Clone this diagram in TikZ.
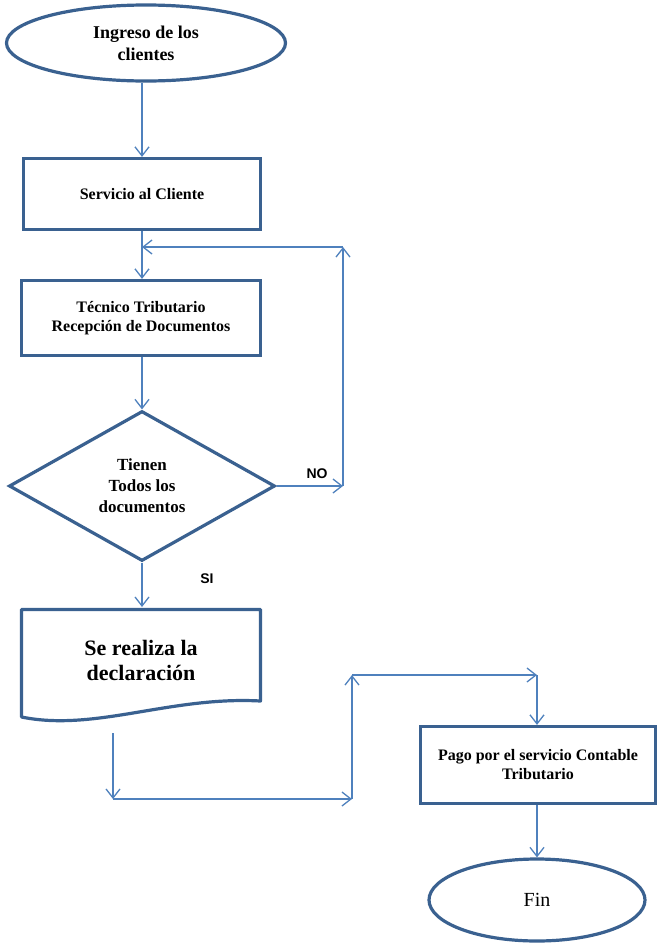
\documentclass[tikz,border=0pt]{standalone}
\usepackage{fontspec}
\setmainfont{Liberation Serif}[BoldFont={Liberation Serif Bold}]
\newfontfamily\etiq{Liberation Sans}[BoldFont={Liberation Sans Bold}]
\usetikzlibrary{shapes.geometric,arrows.meta}
\definecolor{borde}{HTML}{3A6190}
\definecolor{linea}{HTML}{4F81BD}

\begin{document}
\begin{tikzpicture}[x=1pt, y=-1pt,
        caja/.style={draw=borde, line width=3.2pt, fill=white, align=center, inner sep=0pt,
                     font=\bfseries\fontsize{16}{19}\selectfont},
        elipse/.style={caja, shape=ellipse},
        rombo/.style={caja, shape=diamond, aspect=1.78,
                      font=\bfseries\fontsize{17}{21}\selectfont},
        flecha/.style={draw=linea, line width=1.3pt, -{Straight Barb[length=9pt,width=14pt]}},
        rotulo/.style={font=\etiq\bfseries\fontsize{14}{16}\selectfont, inner sep=0pt}]
        \useasboundingbox (0,0) rectangle (659,948);
        % bloques
        \node[elipse, minimum width=279pt, minimum height=76pt,
              font=\bfseries\fontsize{18}{22}\selectfont] (ingreso) at (146,43) {Ingreso de los\\clientes};
        \node[caja, minimum width=237pt, minimum height=71pt] (servicio) at (142,194) {Servicio al Cliente};
        \node[caja, minimum width=239pt, minimum height=75pt] (tecnico)  at (141,318) {T\'ecnico Tributario\\Recepci\'on de Documentos};
        \node[rombo, minimum width=266pt, minimum height=150pt] (tienen) at (142,486) {Tienen\\Todos los\\documentos};
        \draw[borde, line width=3.2pt, fill=white, line join=round]
            (21.5,609.5) -- (260.5,609.5) -- (260.5,701)
            .. controls (170,696) and (95,732) .. (21.5,717) -- cycle;
        \node[font=\bfseries\fontsize{22}{25}\selectfont, align=center] (decl) at (141,660) {Se realiza la\\declaraci\'on};
        \node[caja, minimum width=235pt, minimum height=77pt] (pago) at (538,765) {Pago por el servicio Contable\\Tributario};
        \node[elipse, minimum width=216pt, minimum height=82pt, font=\fontsize{20}{24}\selectfont] (fin) at (537,900) {Fin};
        % puntos de paso
        \coordinate (decltop) at (142,607);
        \coordinate (regreso) at (142,247);
        \coordinate (n1) at (343,486);
        \coordinate (n2) at (343,247);
        \coordinate (s0) at (113,733);
        \coordinate (s1) at (113,799);
        \coordinate (s2) at (352,799);
        \coordinate (s3) at (352,675);
        \coordinate (s4) at (537,675);
        % conectores
        \draw[flecha] (ingreso.south -| servicio.north) -- (servicio.north);
        \draw[flecha] (servicio.south) -- (tecnico.north -| servicio.south);
        \draw[flecha] (tecnico.south -| tienen.north) -- (tienen.north);
        \draw[flecha] (tienen.east) -- (n1);
        \draw[flecha] (n1) -- (n2);
        \draw[flecha] (n2) -- (regreso);
        \draw[flecha] (tienen.south) -- (decltop);
        \draw[flecha] (s0) -- (s1);
        \draw[flecha] (s1) -- (s2);
        \draw[flecha] (s2) -- (s3);
        \draw[flecha] (s3) -- (s4);
        \draw[flecha] (s4) -- (s4 |- pago.north);
        \draw[flecha] (pago.south -| fin.north) -- (fin.north);
        % etiquetas
        \node[rotulo] (no) at (317,474) {NO};
        \node[rotulo] (si) at (207,579) {SI};
\end{tikzpicture}
\end{document}
